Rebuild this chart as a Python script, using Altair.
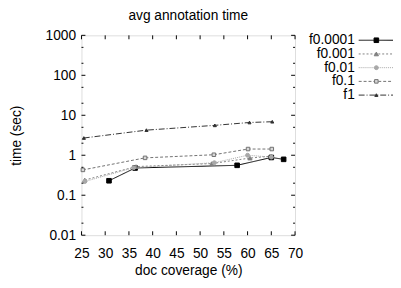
import altair as alt
import pandas as pd

FONT = "Liberation Sans"
FS = 14

series = ["f0.0001", "f0.001", "f0.01", "f0.1", "f1"]

x_f00001 = [30.8, 36.3, 57.8, 65.0, 67.6]
y_f00001 = [0.23, 0.48, 0.56, 0.88, 0.79]

x_f0001 = [25.7, 36.5, 52.5, 60.5, 65.0]
y_f0001 = [0.24, 0.52, 0.62, 0.85, 0.95]

x_f001 = [25.7, 36.0, 53.0, 60.0, 65.0]
y_f001 = [0.22, 0.49, 0.65, 1.0, 0.9]

x_f01 = [25.3, 38.4, 52.9, 60.1, 65.1]
y_f01 = [0.43, 0.86, 1.03, 1.43, 1.43]

x_f1 = [25.5, 38.7, 53.1, 60.4, 65.2]
y_f1 = [2.7, 4.25, 5.6, 6.6, 6.9]

x_ticks = [25, 30, 35, 40, 45, 50, 55, 60, 65, 70]
y_ticks = [0.01, 0.1, 1, 10, 100, 1000]
y_minor = [0.02, 0.05, 0.2, 0.5, 2, 5, 20, 50, 200, 500]

colors = ["#000000", "#808080", "#a8a8a8", "#707070", "#303030"]
fills = ["#000000", "#808080", "#a8a8a8", "#d8d8d8", "#303030"]
dashes = [[1, 0], [2, 2], [1, 1], [3, 2], [6, 2, 1, 2]]
shapes = ["square", "triangle-up", "circle", "square", "triangle-up"]
sizes = [22, 10, 8, 22, 24]

rows = []
for s, xs_, ys_ in zip(series,
                       [x_f00001, x_f0001, x_f001, x_f01, x_f1],
                       [y_f00001, y_f0001, y_f001, y_f01, y_f1]):
    for xv, yv in zip(xs_, ys_):
        rows.append({"series": s, "x": xv, "y": yv})
df = pd.DataFrame(rows)

W, H = 218, 204

xs = alt.Scale(domain=[25, 70], nice=False, zero=False)
ys = alt.Scale(type="log", domain=[0.01, 1000], nice=False)
col = alt.Scale(domain=series, range=colors)
fil = alt.Scale(domain=series, range=fills)
dsh = alt.Scale(domain=series, range=dashes)
shp = alt.Scale(domain=series, range=shapes)
siz = alt.Scale(domain=series, range=sizes)

x_axis = alt.Axis(
    values=x_ticks, ticks=False, domain=False, grid=False, labelOverlap=False,
    labelFlush=False,
    labelFontSize=FS, labelPadding=12, labelColor="black", labelFont=FONT,
    title="doc coverage (%)", titleFontSize=FS, titleFontWeight="normal",
    titleColor="black", titleFont=FONT, titleY=36, titleBaseline="middle")

base = alt.Chart(df)

lines = base.mark_line(strokeWidth=1).encode(
    x=alt.X("x:Q", scale=xs, axis=x_axis),
    y=alt.Y("y:Q", scale=ys, axis=alt.Axis(
        values=y_ticks, format="~g", ticks=False, domain=False, grid=False,
        labelOverlap=False, labelFlush=False,
        labelFontSize=FS, labelPadding=6, labelColor="black", labelFont=FONT,
        title="time (sec)", titleFontSize=FS, titleFontWeight="normal",
        titleColor="black", titleFont=FONT, titleX=-66, titleY=102,
        titleBaseline="middle")),
    stroke=alt.Stroke("series:N", scale=col, legend=None),
    strokeDash=alt.StrokeDash("series:N", scale=dsh, legend=None),
    detail="series:N",
)

points = base.mark_point(filled=True, strokeWidth=1, opacity=1).encode(
    x=alt.X("x:Q", scale=xs, axis=x_axis),
    y=alt.Y("y:Q", scale=ys, axis=None),
    fill=alt.Fill("series:N", scale=fil, legend=None),
    stroke=alt.Stroke("series:N", scale=col, legend=None),
    shape=alt.Shape("series:N", scale=shp, legend=None),
    size=alt.Size("series:N", scale=siz, legend=None),
)

xt = pd.DataFrame({"v": x_ticks})
ytm = pd.DataFrame({"v": y_ticks})
ytn = pd.DataFrame({"v": y_minor})

tick_style = dict(color="black", strokeWidth=1)
xb = alt.Chart(xt).mark_rule(**tick_style).encode(
    x=alt.X("v:Q", scale=xs, axis=x_axis), y=alt.value(H), y2=alt.value(H - 4))
xtop = alt.Chart(xt).mark_rule(**tick_style).encode(
    x=alt.X("v:Q", scale=xs, axis=x_axis), y=alt.value(0), y2=alt.value(4))
yl = alt.Chart(ytm).mark_rule(**tick_style).encode(
    y=alt.Y("v:Q", scale=ys, axis=None), x=alt.value(0), x2=alt.value(4))
yr = alt.Chart(ytm).mark_rule(**tick_style).encode(
    y=alt.Y("v:Q", scale=ys, axis=None), x=alt.value(W), x2=alt.value(W - 4))
yln = alt.Chart(ytn).mark_rule(**tick_style).encode(
    y=alt.Y("v:Q", scale=ys, axis=None), x=alt.value(0), x2=alt.value(2))
yrn = alt.Chart(ytn).mark_rule(**tick_style).encode(
    y=alt.Y("v:Q", scale=ys, axis=None), x=alt.value(W), x2=alt.value(W - 2))

leg_df = pd.DataFrame({"series": series})
leg_y = alt.Scale(type="point", domain=series, range=[5, 61], padding=0)
leg_text = alt.Chart(leg_df).mark_text(
    align="right", baseline="middle", fontSize=FS, font=FONT, color="black"
).encode(
    y=alt.Y("series:N", scale=leg_y, axis=None),
    x=alt.value(279),
    text="series:N",
)
leg_line = alt.Chart(leg_df).mark_rule(strokeWidth=1).encode(
    y=alt.Y("series:N", scale=leg_y, axis=None),
    x=alt.value(283), x2=alt.value(318),
    stroke=alt.Stroke("series:N", scale=col, legend=None),
    strokeDash=alt.StrokeDash("series:N", scale=dsh, legend=None),
)
leg_pt = alt.Chart(leg_df).mark_point(filled=True, strokeWidth=1, opacity=1).encode(
    y=alt.Y("series:N", scale=leg_y, axis=None),
    x=alt.value(301),
    fill=alt.Fill("series:N", scale=fil, legend=None),
    stroke=alt.Stroke("series:N", scale=col, legend=None),
    shape=alt.Shape("series:N", scale=shp, legend=None),
    size=alt.Size("series:N", scale=siz, legend=None),
)

chart = alt.layer(
    lines, points, xb, xtop, yl, yr, yln, yrn, leg_line, leg_pt, leg_text
).resolve_scale(y="independent").properties(
    width=W, height=H,
    title=alt.TitleParams("avg annotation time", fontSize=FS, fontWeight="normal",
                          font=FONT, color="black", anchor="middle",
                          frame="group", offset=6),
    autosize=alt.AutoSizeParams(type="none"),
    padding={"left": 75, "top": 25, "right": 100, "bottom": 51},
).configure_view(
    stroke="black", strokeWidth=1
).configure_axisX(labelOverlap=False, labelFlush=False).configure(font=FONT)

chart.save("out.html", embed_options={"renderer": "svg", "actions": False})
